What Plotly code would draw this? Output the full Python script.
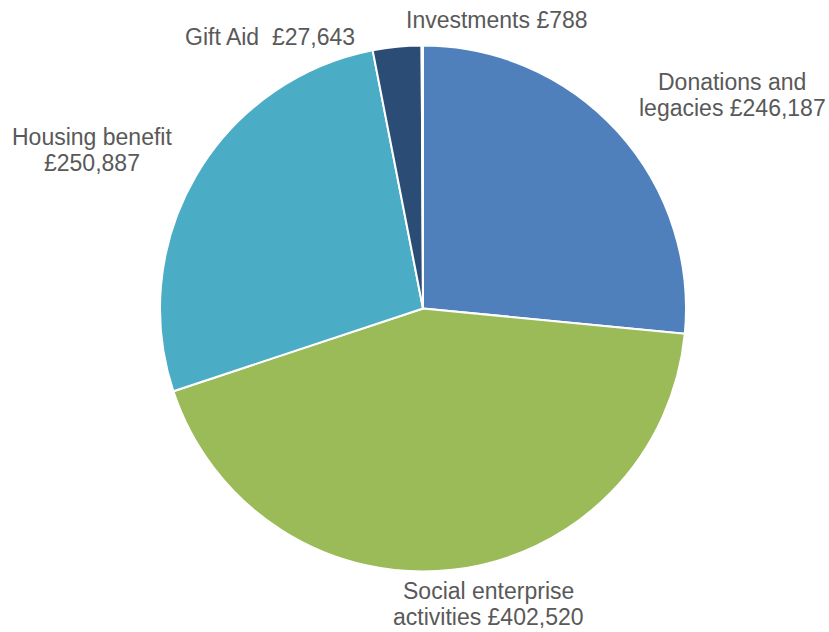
import plotly.graph_objects as go

categories = ["Donations and legacies", "Social enterprise activities", "Housing benefit", "Gift Aid", "Investments"]
values = [246187, 402520, 250887, 27643, 788]
label_lines = [
    ["Donations and", "legacies £246,187"],
    ["Social enterprise", "activities £402,520"],
    ["Housing benefit", "£250,887"],
    ["Gift Aid  £27,643"],
    ["Investments £788"],
]
colors = ["#4F80BC", "#9BBB59", "#4BACC6", "#2B4C74", "#1F3F66"]

W, H = 829, 632
# label first-line centres in figure pixels (from top-left)
label_px = [(732, 82), (488, 591), (92, 137), (270, 37), (497, 20)]
LINE_PITCH = 26

cx, cy, r = 423, 308.5, 263
fig = go.Figure(go.Pie(
    labels=categories,
    values=values,
    sort=False,
    direction="clockwise",
    rotation=0,
    marker=dict(colors=colors, line=dict(color="white", width=2)),
    textinfo="none",
    hoverinfo="label+value",
    showlegend=False,
    domain=dict(x=[(cx - r) / W, (cx + r) / W], y=[(H - cy - r) / H, (H - cy + r) / H]),
))

for lines, (px, py) in zip(label_lines, label_px):
    for i, line in enumerate(lines):
        fig.add_annotation(x=px / W, y=1 - (py + i * LINE_PITCH) / H, xref="paper", yref="paper",
                           text=line, showarrow=False, xanchor="center", yanchor="middle",
                           font=dict(family="Liberation Sans, Arial", size=23, color="#595959"))

fig.update_layout(width=W, height=H, margin=dict(l=0, r=0, t=0, b=0),
                  paper_bgcolor="white", plot_bgcolor="white")
fig.write_html("out.html", config={"displayModeBar": False},
               post_script="document.body.style.margin='0';document.documentElement.style.overflow='hidden';")
